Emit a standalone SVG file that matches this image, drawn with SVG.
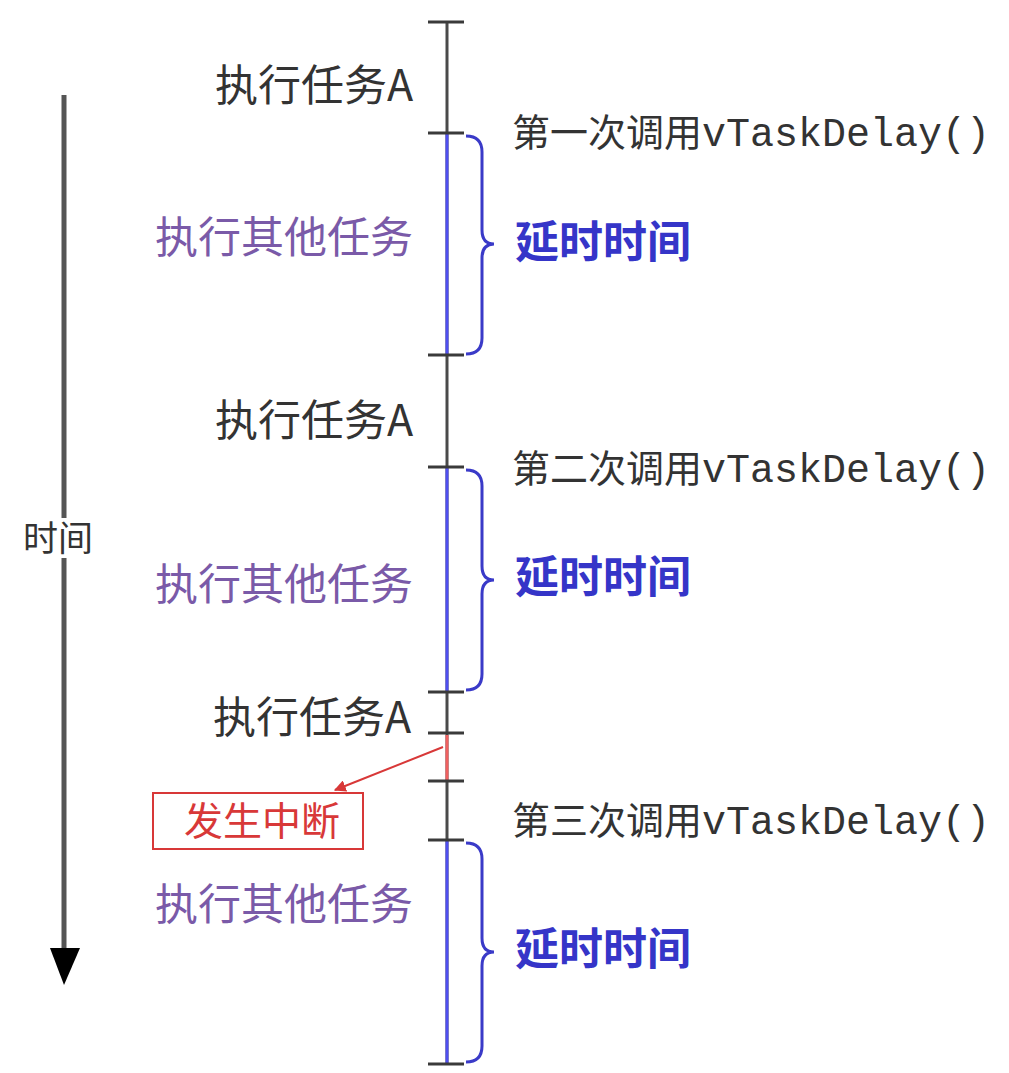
<svg xmlns="http://www.w3.org/2000/svg" width="1009" height="1073" viewBox="0 0 1009 1073">
<defs>
<style>
.ax{stroke:#4a4a4a;stroke-width:3;fill:none}
.tk{stroke:#3a3a3a;stroke-width:3}
.bl{stroke:#4f4ff0;stroke-width:3;fill:none}
.br{stroke:#3a3ac8;stroke-width:3;fill:none}
.t{font-family:"Noto Sans CJK SC","Liberation Sans",sans-serif;font-size:43px}
.m{font-family:"Liberation Mono",monospace;font-size:40px}
.task{fill:#333}
.oth{fill:#7a5aa8}
.dl{fill:#3535c8;font-weight:600;font-size:44px}
.call{fill:#333;font-size:38px}
.red{fill:#d83838}
</style>
<marker id="ah" viewBox="0 0 10 10" refX="9" refY="5" markerWidth="6" markerHeight="6" orient="auto"><path d="M0,0 L10,5 L0,10 z" fill="#d83838"/></marker>
</defs>
<rect width="1009" height="1073" fill="#fff"/>
<g id="connectors">
<line class="ax" x1="447" y1="22" x2="447" y2="1064"/>
<line class="bl" x1="447" y1="133" x2="447" y2="355"/>
<line class="bl" x1="447" y1="467" x2="447" y2="692"/>
<line class="bl" x1="447" y1="840" x2="447" y2="1064"/>
<line x1="447" y1="735" x2="447" y2="781" stroke="#f06060" stroke-width="3"/>
<g class="tk">
<line x1="428" y1="22" x2="464" y2="22"/>
<line x1="428" y1="133" x2="464" y2="133"/>
<line x1="428" y1="355" x2="464" y2="355"/>
<line x1="428" y1="467" x2="464" y2="467"/>
<line x1="428" y1="692" x2="464" y2="692"/>
<line x1="428" y1="733" x2="464" y2="733"/>
<line x1="428" y1="781" x2="464" y2="781"/>
<line x1="428" y1="840" x2="464" y2="840"/>
<line x1="428" y1="1064" x2="464" y2="1064"/>
</g>
<path class="br" d="M466,136 Q482,136 482,152 L482,230 Q482,244 494,244 Q482,244 482,258 L482,338 Q482,354 466,354"/>
<path class="br" d="M466,470 Q482,470 482,486 L482,566 Q482,580 494,580 Q482,580 482,594 L482,674 Q482,690 466,690"/>
<path class="br" d="M466,843 Q482,843 482,859 L482,938 Q482,952 494,952 Q482,952 482,966 L482,1046 Q482,1062 466,1062"/>
<line x1="443" y1="747" x2="335" y2="790" stroke="#d83838" stroke-width="2" marker-end="url(#ah)"/>
<line x1="64" y1="95" x2="64" y2="950" stroke="#555" stroke-width="5"/>
<path d="M50,948 L80,948 L64,985 z" fill="#000"/>
</g>
<g id="time"><rect x="20" y="518" width="78" height="40" fill="#fff"/><text class="t task" x="23" y="551" style="font-size:35px">时间</text></g>
<g id="taskA1"><text class="t task" x="215" y="101">执行任务A</text></g>
<g id="call1"><text class="t call" x="512" y="146">第一次调用<tspan class="m">vTaskDelay()</tspan></text></g>
<g id="other1"><text class="t oth" x="155" y="253">执行其他任务</text></g>
<g id="delay1"><text class="t dl" x="515" y="258">延时时间</text></g>
<g id="taskA2"><text class="t task" x="215" y="436">执行任务A</text></g>
<g id="call2"><text class="t call" x="512" y="482">第二次调用<tspan class="m">vTaskDelay()</tspan></text></g>
<g id="other2"><text class="t oth" x="155" y="600">执行其他任务</text></g>
<g id="delay2"><text class="t dl" x="515" y="593">延时时间</text></g>
<g id="taskA3"><text class="t task" x="213" y="733">执行任务A</text></g>
<g id="interrupt"><rect x="153" y="793" width="210" height="56" fill="#fff" stroke="#d83838" stroke-width="2"/><text class="t red" x="262" y="835" text-anchor="middle" style="font-size:39px">发生中断</text></g>
<g id="call3"><text class="t call" x="512" y="834">第三次调用<tspan class="m">vTaskDelay()</tspan></text></g>
<g id="other3"><text class="t oth" x="155" y="920">执行其他任务</text></g>
<g id="delay3"><text class="t dl" x="515" y="965">延时时间</text></g>
</svg>
